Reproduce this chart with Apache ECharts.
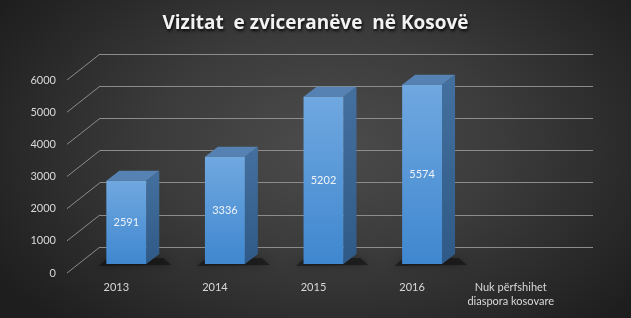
<!DOCTYPE html>
<html><head><meta charset="utf-8">
<script src="https://cdn.jsdelivr.net/npm/echarts@6/dist/echarts.min.js"></script>
<style>
html,body{margin:0;padding:0;background:#262626}
#c{width:631px;height:318px;background:radial-gradient(ellipse 62% 78% at 52% 45%, #4c4c4c 0%, #3b3b3b 45%, #1e1e1e 100%)}
</style>
</head><body><div id="c"></div>
<script>
const categories = ['2013', '2014', '2015', '2016', 'Nuk përfshihet\ndiaspora kosovare'];
const visits = [2591, 3336, 5202, 5574, null];
const yTicks = [0, 1000, 2000, 3000, 4000, 5000, 6000];
const titleText = 'Vizitat  e zviceranëve  në Kosovë';

const WALL_DX = 33, WALL_DY = -26;   // depth offset front plane -> back wall
const BAR_DX = 13, BAR_DY = -10;     // bar depth

const chart = echarts.init(document.getElementById('c'), null, {renderer: 'canvas'});
const FONT = 'Lato, "Open Sans", sans-serif';

function renderDiag(params, api) {
  const v = api.value(1);
  const cs = params.coordSys;
  const p = api.coord([0, v]);
  const x0 = cs.x;
  return {
    type: 'line',
    shape: {x1: x0, y1: p[1], x2: x0 + WALL_DX, y2: p[1] + WALL_DY},
    style: {stroke: '#8c8c8c', lineWidth: 1}
  };
}

function renderBar(params, api) {
  const v = api.value(1);
  if (v == null || isNaN(v)) return;
  const c = api.value(0);
  const top = api.coord([c, v]);
  const base = api.coord([c, 0]);
  const w = api.size([1, 0])[0] * 0.405;
  const x0 = top[0] - w / 2, x1 = top[0] + w / 2;
  const yT = top[1], yB = base[1];
  return {
    type: 'group',
    children: [
      {
        type: 'polygon',
        shape: {points: [[x0 - 8, yB + 2], [x1 + BAR_DX + 12, yB + 1], [x1 + BAR_DX + 4, yB + BAR_DY + 4], [x0 + 2, yB + BAR_DY + 4]]},
        style: {fill: 'rgba(0,0,0,0.4)', shadowBlur: 9, shadowColor: 'rgba(0,0,0,0.7)'}
      },
      {
        type: 'polygon',
        shape: {points: [[x1, yT], [x1 + BAR_DX, yT + BAR_DY], [x1 + BAR_DX, yB + BAR_DY], [x1, yB]]},
        style: {fill: new echarts.graphic.LinearGradient(0, 0, 0, 1, [
          {offset: 0, color: '#44709f'}, {offset: 1, color: '#2f5a87'}])}
      },
      {
        type: 'polygon',
        shape: {points: [[x0, yT], [x0 + BAR_DX, yT + BAR_DY], [x1 + BAR_DX, yT + BAR_DY], [x1, yT]]},
        style: {fill: '#5682b3'}
      },
      {
        type: 'rect',
        shape: {x: x0, y: yT, width: w, height: yB - yT},
        style: {fill: new echarts.graphic.LinearGradient(0, 0, 0, 1, [
          {offset: 0, color: '#70a8e0'}, {offset: 1, color: '#3f87cf'}])}
      },
      {
        type: 'text',
        style: {
          text: String(v), x: top[0], y: (yT + yB) / 2,
          align: 'center', verticalAlign: 'middle',
          fill: '#eef3f8', font: '11px ' + FONT
        }
      }
    ]
  };
}

const option = {
  animation: false,
  backgroundColor: 'transparent',
  title: {
    text: titleText, left: 'center', top: 9,
    textStyle: {
      color: '#f2f2f2', fontSize: 19, fontWeight: 'bold', fontFamily: '"Open Sans", Lato, sans-serif',
      textShadowColor: 'rgba(0,0,0,0.85)', textShadowBlur: 3, textShadowOffsetX: 1, textShadowOffsetY: 2
    }
  },
  grid: [
    {left: 100, right: 38, top: 54, bottom: 71},
    {left: 67, right: 71, top: 80, bottom: 45},
    {left: 77, right: 61, top: 71, bottom: 54}
  ],
  xAxis: [
    {gridIndex: 0, type: 'category', data: categories, show: false},
    {gridIndex: 1, type: 'category', data: categories,
      axisLine: {show: false}, axisTick: {show: false},
      axisLabel: {interval: 0, margin: 7, color: '#d9d9d9', fontSize: 11, fontFamily: FONT, lineHeight: 14}},
    {gridIndex: 2, type: 'category', data: categories, show: false}
  ],
  yAxis: [
    {gridIndex: 0, type: 'value', min: 0, max: 6000, interval: 1000,
      axisLine: {show: false}, axisTick: {show: false}, axisLabel: {show: false},
      splitLine: {show: true, lineStyle: {color: '#8c8c8c', width: 1}}},
    {gridIndex: 1, type: 'value', min: 0, max: 6000, interval: 1000,
      axisLine: {show: false}, axisTick: {show: false}, splitLine: {show: false},
      axisLabel: {margin: 11, color: '#d9d9d9', fontSize: 11, fontFamily: FONT, formatter: v => String(v)}},
    {gridIndex: 2, type: 'value', min: 0, max: 6000, show: false, splitLine: {show: false}}
  ],
  series: [
    {type: 'custom', xAxisIndex: 1, yAxisIndex: 1, renderItem: renderDiag,
      data: yTicks.map(t => [0, t]), silent: true},
    {type: 'custom', xAxisIndex: 2, yAxisIndex: 2, renderItem: renderBar,
      data: visits.map((v, i) => [i, v]), silent: true}
  ]
};
chart.setOption(option);
</script>
</body></html>
